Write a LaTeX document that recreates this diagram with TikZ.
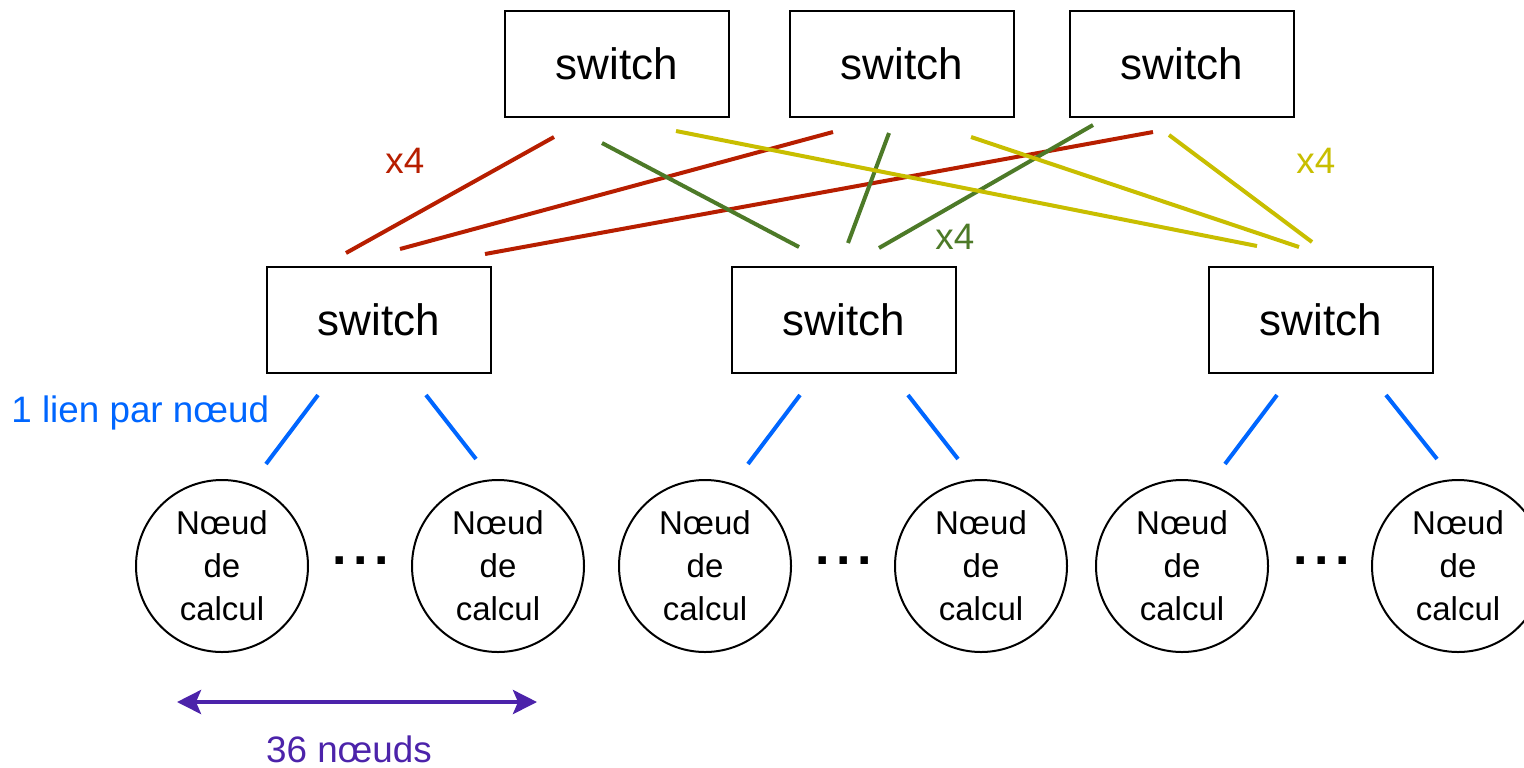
\documentclass[tikz,border=0pt]{standalone}
\usepackage{fontspec}
\setmainfont{Liberation Sans}
\usetikzlibrary{arrows.meta,positioning}
\definecolor{rouge}{RGB}{183,30,0}
\definecolor{vert}{RGB}{77,122,40}
\definecolor{jaune}{RGB}{200,190,0}
\definecolor{bleu}{RGB}{0,102,255}
\definecolor{violet}{RGB}{76,35,170}

\tikzset{
    switch/.style={draw, line width=1pt, minimum width=112pt, minimum height=53pt, font=\fontsize{22}{26}\selectfont},
    calcul/.style={draw, circle, line width=1pt, minimum size=86pt, inner sep=0pt, align=center, font=\fontsize{16.5}{21.5}\selectfont},
    lien/.style={line width=2pt},
    etiq/.style={inner sep=0pt, font=\fontsize{18.4}{22}\selectfont},
    points/.style={inner sep=0pt, font=\bfseries\fontsize{26}{26}\selectfont},
}

\begin{document}
\begin{tikzpicture}[x=0.5pt, y=-0.5pt]

    \useasboundingbox (0,0) rectangle (1524,767);

    % switchs du niveau haut
    \node[switch] (h1) at (617,64) {switch};
    \node[switch] (h2) at (902,64) {switch};
    \node[switch] (h3) at (1182,64) {switch};

    % switchs du niveau bas
    \node[switch] (b1) at (379,320) {switch};
    \node[switch] (b2) at (844,320) {switch};
    \node[switch] (b3) at (1321,320) {switch};

    % noeuds de calcul
    \foreach \i/\x in {1/222,2/498,3/705,4/981,5/1182,6/1458}{
        \node[calcul] (n\i) at (\x,566) {Nœud\\de\\calcul};
    }
    \foreach \i/\x in {1/361,2/844,3/1322}{
        \node[points] (p\i) at (\x,561) {.\kern3.25pt.\kern3.25pt.};
    }

    % extremites des liens
    \foreach \n/\xa/\ya/\xb/\yb in {r1/554/137/346/253, r2/833/132/400/249, r3/1153/132/485/254,
        v1/602/143/799/247, v2/889/133/848/243, v3/1093/125/879/248,
        j1/676/131/1257/246, j2/971/137/1299/247, j3/1169/135/1312/242,
        c1/318/395/266/464, c2/426/395/476/459, c3/800/395/748/464,
        c4/908/395/958/459, c5/1277/395/1225/464, c6/1386/395/1437/459}{
        \coordinate (\n h) at (\xa,\ya);
        \coordinate (\n b) at (\xb,\yb);
    }

    \foreach \n/\c in {r1/rouge,r2/rouge,r3/rouge,v1/vert,v2/vert,v3/vert,j1/jaune,j2/jaune,j3/jaune,
        c1/bleu,c2/bleu,c3/bleu,c4/bleu,c5/bleu,c6/bleu}{
        \draw[lien, \c] (\n h) -- (\n b);
    }

    \node[etiq, rouge, anchor=base west] (xr) at (385,173) {x4};
    \node[etiq, vert, anchor=base west] (xv) at (935,249) {x4};
    \node[etiq, jaune, anchor=base west] (xj) at (1296,173) {x4};
    \node[etiq, bleu, anchor=base west] (lien) at (11,422) {1 lien par nœud};

    % largeur d'un groupe
    \coordinate (fa) at (177,702);
    \coordinate (fb) at (537,702);
    \draw[violet, line width=2pt, {Stealth[length=12pt,width=12pt,inset=2.5pt]}-{Stealth[length=12pt,width=12pt,inset=2.5pt]}] (fa) -- (fb);
    \node[etiq, violet, anchor=base] (nb) at (349,762) {36 nœuds};

\end{tikzpicture}
\end{document}
